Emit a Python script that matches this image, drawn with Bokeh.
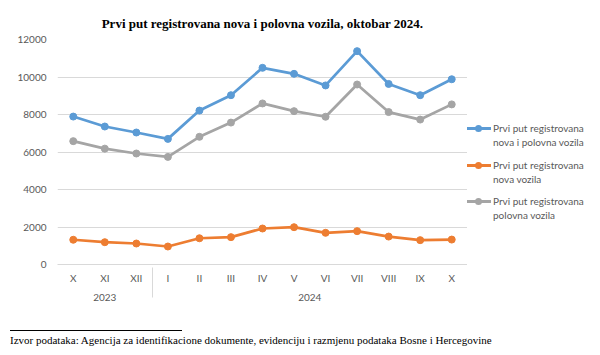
from bokeh.plotting import figure
from bokeh.layouts import column, row
from bokeh.models import FactorRange, Range1d, FixedTicker, Div
from bokeh.embed import file_html
from bokeh.resources import INLINE

years = ["2023"] * 3 + ["2024"] * 10
months = ["X", "XI", "XII", "I", "II", "III", "IV", "V", "VI", "VII", "VIII", "IX", "X"]
total = [7890, 7360, 7040, 6700, 8210, 9030, 10490, 10170, 9550, 11380, 9630, 9030, 9880]
new = [1320, 1190, 1120, 960, 1400, 1460, 1920, 1990, 1690, 1780, 1490, 1300, 1330]
used = [6580, 6180, 5920, 5740, 6810, 7570, 8590, 8180, 7880, 9600, 8130, 7730, 8540]
y_ticks = [0, 2000, 4000, 6000, 8000, 10000, 12000]

labels = ["Prvi put registrovana\nnova i polovna vozila",
          "Prvi put registrovana\nnova vozila",
          "Prvi put registrovana\npolovna vozila"]
colors = ["#5B9BD5", "#ED7D31", "#A5A5A5"]
source_note = "Izvor podataka: Agencija za identifikacione dokumente, evidenciju i razmjenu podataka Bosne i Hercegovine"

factors = list(zip(years, months))
TXT = "#595959"
GRID = "#D9D9D9"
SANS = "Lato"
SERIF = "Liberation Serif"

fig = figure(x_range=FactorRange(*factors, group_padding=0, range_padding=0),
             y_range=Range1d(y_ticks[0], y_ticks[-1]),
             width=467, height=320, output_backend="svg", toolbar_location=None,
             min_border_left=57, min_border_right=0, min_border_top=39, min_border_bottom=56)
fig.outline_line_color = None
fig.background_fill_color = "white"
fig.border_fill_color = "white"

fig.title.text = "Prvi put registrovana nova i polovna vozila, oktobar 2024."
fig.title.align = "center"
fig.title.offset = 6
fig.title.standoff = 18
fig.title.text_font = SERIF
fig.title.text_font_size = "13px"
fig.title.text_font_style = "bold"
fig.title.text_color = "black"

fig.xgrid.grid_line_color = None
fig.ygrid.grid_line_color = GRID
fig.ygrid.grid_line_width = 1

fig.yaxis.ticker = FixedTicker(ticks=y_ticks)
fig.yaxis.axis_line_color = None
fig.yaxis.major_tick_line_color = None
fig.yaxis.major_tick_out = 0
fig.yaxis.minor_tick_line_color = None
fig.yaxis.major_label_standoff = 11
fig.yaxis.major_label_text_font = SANS
fig.yaxis.major_label_text_font_size = "10px"
fig.yaxis.major_label_text_color = TXT

xa = fig.xaxis[0]
xa.axis_line_color = GRID
xa.major_tick_line_color = None
xa.major_tick_out = 0
xa.separator_line_color = GRID
xa.separator_line_width = 1
xa.major_label_text_font = SANS
xa.major_label_text_font_size = "10px"
xa.major_label_text_color = TXT
xa.group_text_font = SANS
xa.group_text_font_size = "10px"
xa.group_text_color = TXT
xa.group_text_font_style = "normal"
xa.major_label_standoff = 7

for vals, c in zip([total, new, used], colors):
    fig.line(x=factors, y=vals, line_width=2.75, line_color=c)
    fig.scatter(x=factors, y=vals, size=7, fill_color=c, line_color=c)

# legend, drawn as HTML beside the plot frame
entries = []
for i, (lab, c) in enumerate(zip(labels, colors)):
    top = 121 + i * 36.5
    entries.append(
        f'<div style="position:absolute;left:0;top:{top}px;width:133px;height:30px;">'
        f'<div style="position:absolute;left:0;top:6px;width:24px;height:3px;background:{c};"></div>'
        f'<div style="position:absolute;left:8px;top:4px;width:7px;height:7px;border-radius:50%;background:{c};"></div>'
        f'<div style="position:absolute;left:26px;top:0;font-family:{SANS};font-size:10px;'
        f'line-height:14px;color:{TXT};white-space:nowrap;">{lab.replace(chr(10), "<br>")}</div>'
        '</div>')
legend_div = Div(text='<div style="position:relative;width:133px;height:320px;">' + "".join(entries) + '</div>',
                 width=133, height=320, margin=(0, 0, 0, 0))

note = Div(text=('<div style="width:172px;height:0;border-top:1px solid black;'
                 'margin:10px 0 0 10px;"></div>'
                 '<div style="margin:3px 0 0 10px;font-family:\'Liberation Serif\';'
                 'font-size:11px;line-height:13px;color:black;white-space:nowrap;">'
                 + source_note + '</div>'),
           width=600, height=35, margin=(0, 0, 0, 0))

p = column(row(fig, legend_div, spacing=0), note, spacing=0)

open("out.html", "w").write(file_html(p, INLINE))
